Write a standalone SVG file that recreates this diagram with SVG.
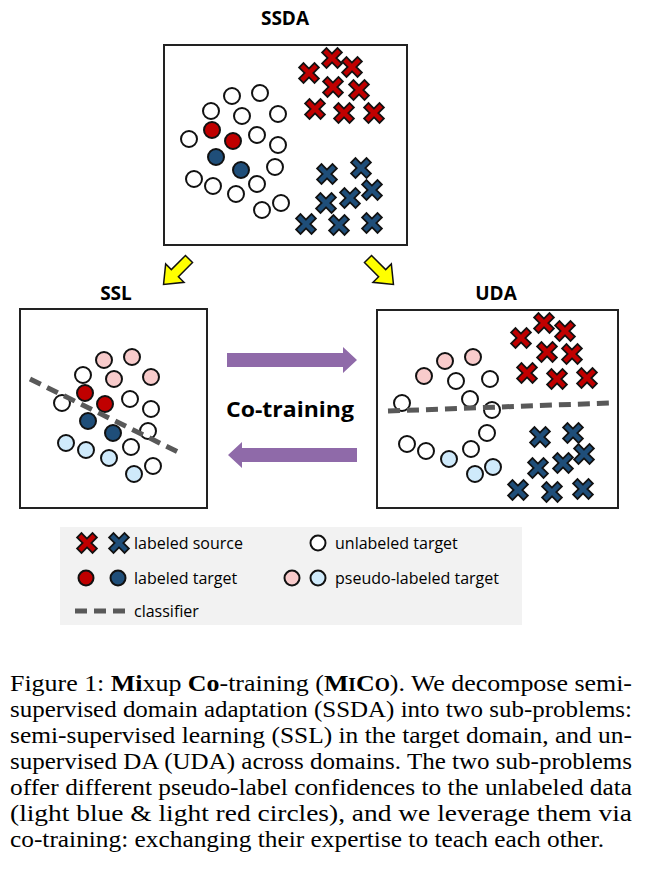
<svg xmlns="http://www.w3.org/2000/svg" xmlns:xlink="http://www.w3.org/1999/xlink" width="648" height="877" viewBox="0 0 648 877">
<style>
.box{fill:#fff;stroke:#222;stroke-width:2}
.title{font-family:"Open Sans","Liberation Sans",sans-serif;font-weight:bold;font-size:19px;fill:#000;text-anchor:middle}
.o{fill:#fff;stroke:#111;stroke-width:2}
.r{fill:#c00000;stroke:#111;stroke-width:2}
.b{fill:#1f4e79;stroke:#111;stroke-width:2}
.p{fill:#f8cbcb;stroke:#111;stroke-width:2}
.lb{fill:#cfeafb;stroke:#111;stroke-width:2}
.dash{stroke:#595959;stroke-width:5;stroke-dasharray:12 7;fill:none}
.leg{font-family:"Open Sans","Liberation Sans",sans-serif;font-size:16px;fill:#000}
.cap{font-family:"Liberation Serif",serif;font-size:24px;fill:#000}
</style>
<defs>
<g id="xo"><path d="M-5.5,-5.5L5.5,5.5M5.5,-5.5L-5.5,5.5" stroke="#111" stroke-width="8" stroke-linecap="square"/></g>
<g id="xr"><use xlink:href="#xo"/><path d="M-5.5,-5.5L5.5,5.5M5.5,-5.5L-5.5,5.5" stroke="#c00000" stroke-width="4.5" stroke-linecap="square"/></g>
<g id="xb"><use xlink:href="#xo"/><path d="M-5.5,-5.5L5.5,5.5M5.5,-5.5L-5.5,5.5" stroke="#1f4e79" stroke-width="4.5" stroke-linecap="square"/></g>
<polygon id="yarr" points="0,-5 20,-5 20,-13 36,0 20,13 20,5 0,5" fill="#ffff00" stroke="#111" stroke-width="1.5"/>
</defs>

<g id="ssda">
<text class="title" x="285" y="25">SSDA</text>
<rect class="box" x="164" y="45" width="243" height="200"/>
<circle class="o" cx="232" cy="96" r="8"/><circle class="o" cx="260" cy="93" r="8"/><circle class="o" cx="211" cy="111" r="8"/>
<circle class="o" cx="242" cy="116" r="8"/><circle class="o" cx="278" cy="114" r="8"/><circle class="o" cx="189" cy="139" r="8"/>
<circle class="o" cx="257" cy="135" r="8"/><circle class="o" cx="278" cy="145" r="8"/><circle class="o" cx="194" cy="179" r="8"/>
<circle class="o" cx="213" cy="186" r="8"/><circle class="o" cx="275" cy="167" r="8"/><circle class="o" cx="236" cy="194" r="8"/>
<circle class="o" cx="257" cy="184" r="8"/><circle class="o" cx="262" cy="210" r="8"/><circle class="o" cx="281" cy="203" r="8"/>
<circle class="r" cx="212" cy="130" r="8"/><circle class="r" cx="233" cy="141" r="8"/>
<circle class="b" cx="216" cy="157" r="8"/><circle class="b" cx="241" cy="170" r="8"/>
<use xlink:href="#xr" x="309" y="73"/><use xlink:href="#xr" x="332" y="58"/><use xlink:href="#xr" x="352" y="67"/><use xlink:href="#xr" x="333" y="87"/>
<use xlink:href="#xr" x="359" y="90"/><use xlink:href="#xr" x="315" y="109"/><use xlink:href="#xr" x="344" y="113"/><use xlink:href="#xr" x="374" y="113"/>
<use xlink:href="#xb" x="327" y="174"/><use xlink:href="#xb" x="361" y="168"/><use xlink:href="#xb" x="372" y="190"/><use xlink:href="#xb" x="350" y="198"/>
<use xlink:href="#xb" x="326" y="203"/><use xlink:href="#xb" x="306" y="224"/><use xlink:href="#xb" x="339" y="225"/><use xlink:href="#xb" x="372" y="223"/>
</g>

<g id="ssl">
<text class="title" x="116" y="300">SSL</text>
<rect class="box" x="20" y="309" width="187" height="199"/>
<circle class="p" cx="104" cy="360" r="8"/><circle class="p" cx="132" cy="357" r="8"/><circle class="p" cx="114" cy="379" r="8"/><circle class="p" cx="151" cy="377" r="8"/>
<circle class="o" cx="83" cy="375" r="8"/><circle class="o" cx="62" cy="403" r="8"/><circle class="o" cx="130" cy="399" r="8"/><circle class="o" cx="151" cy="409" r="8"/>
<circle class="o" cx="148" cy="431" r="8"/><circle class="o" cx="131" cy="447" r="8"/><circle class="o" cx="153" cy="466" r="8"/>
<circle class="r" cx="85" cy="393" r="8"/><circle class="r" cx="105" cy="404" r="8"/>
<circle class="b" cx="88" cy="421" r="8"/><circle class="b" cx="113" cy="433" r="8"/>
<circle class="lb" cx="66" cy="443" r="8"/><circle class="lb" cx="86" cy="450" r="8"/><circle class="lb" cx="109" cy="458" r="8"/><circle class="lb" cx="134" cy="474" r="8"/>
<line class="dash" x1="30" y1="379" x2="178" y2="452"/>
</g>

<g id="uda">
<text class="title" x="496" y="300">UDA</text>
<rect class="box" x="377" y="310" width="241" height="198"/>
<circle class="p" cx="424" cy="376" r="8"/><circle class="p" cx="445" cy="361" r="8"/><circle class="p" cx="473" cy="357" r="8"/>
<circle class="o" cx="456" cy="381" r="8"/><circle class="o" cx="490" cy="379" r="8"/><circle class="o" cx="402" cy="403" r="8"/><circle class="o" cx="470" cy="399" r="8"/>
<circle class="o" cx="492" cy="410" r="8"/><circle class="o" cx="487" cy="433" r="8"/><circle class="o" cx="407" cy="444" r="8"/><circle class="o" cx="426" cy="451" r="8"/><circle class="o" cx="471" cy="449" r="8"/>
<circle class="lb" cx="449" cy="459" r="8"/><circle class="lb" cx="475" cy="474" r="8"/><circle class="lb" cx="493" cy="467" r="8"/>
<line class="dash" x1="388" y1="411" x2="610" y2="403"/>
<use xlink:href="#xr" x="521" y="338"/><use xlink:href="#xr" x="544" y="323"/><use xlink:href="#xr" x="565" y="331"/><use xlink:href="#xr" x="547" y="352"/>
<use xlink:href="#xr" x="572" y="354"/><use xlink:href="#xr" x="527" y="373"/><use xlink:href="#xr" x="557" y="379"/><use xlink:href="#xr" x="587" y="378"/>
<use xlink:href="#xb" x="540" y="437"/><use xlink:href="#xb" x="573" y="433"/><use xlink:href="#xb" x="584" y="454"/><use xlink:href="#xb" x="563" y="463"/>
<use xlink:href="#xb" x="538" y="468"/><use xlink:href="#xb" x="518" y="490"/><use xlink:href="#xb" x="552" y="492"/><use xlink:href="#xb" x="583" y="489"/>
</g>

<g id="connectors">
<use xlink:href="#yarr" transform="translate(189,259) rotate(135)"/>
<use xlink:href="#yarr" transform="translate(368,259) rotate(45)"/>
<polygon points="227,353 343,353 343,347 357,360 343,373 343,367 227,367" fill="#8f6aa9"/>
<polygon points="357,448 242,448 242,442 228,455 242,468 242,462 357,462" fill="#8f6aa9"/>
<text x="290" y="417" text-anchor="middle" font-family="Open Sans, Liberation Sans, sans-serif" font-weight="bold" font-size="21" textLength="128" lengthAdjust="spacingAndGlyphs">Co-training</text>
</g>

<g id="legend">
<rect x="60" y="527" width="462" height="98" fill="#f2f2f2"/>
<use xlink:href="#xr" x="87" y="543"/><use xlink:href="#xb" x="119" y="543"/>
<text class="leg" x="134" y="549">labeled source</text>
<circle class="o" cx="318" cy="543" r="7.5"/>
<text class="leg" x="335" y="549">unlabeled target</text>
<circle class="r" cx="86" cy="578" r="7.5"/><circle class="b" cx="118" cy="578" r="7.5"/>
<text class="leg" x="134" y="584">labeled target</text>
<circle class="p" cx="292" cy="578" r="7.5"/><circle class="lb" cx="318" cy="578" r="7.5"/>
<text class="leg" x="335" y="584">pseudo-labeled target</text>
<line class="dash" x1="75" y1="611" x2="126" y2="611" stroke-width="4" stroke-dasharray="12 6"/>
<text class="leg" x="134" y="617">classifier</text>
</g>

<g id="caption">
<text class="cap" x="10" y="691" textLength="622" lengthAdjust="spacingAndGlyphs">Figure 1: <tspan font-weight="bold">Mi</tspan>xup <tspan font-weight="bold">Co</tspan>-training (<tspan font-weight="bold">M<tspan font-size="18">I</tspan>C<tspan font-size="18">O</tspan></tspan>). We decompose semi-</text>
<text class="cap" x="10" y="717" textLength="622" lengthAdjust="spacingAndGlyphs">supervised domain adaptation (SSDA) into two sub-problems:</text>
<text class="cap" x="10" y="743" textLength="622" lengthAdjust="spacingAndGlyphs">semi-supervised learning (SSL) in the target domain, and un-</text>
<text class="cap" x="10" y="769" textLength="622" lengthAdjust="spacingAndGlyphs">supervised DA (UDA) across domains. The two sub-problems</text>
<text class="cap" x="10" y="795" textLength="622" lengthAdjust="spacingAndGlyphs">offer different pseudo-label confidences to the unlabeled data</text>
<text class="cap" x="10" y="821" textLength="622" lengthAdjust="spacingAndGlyphs">(light blue &amp; light red circles), and we leverage them via</text>
<text class="cap" x="10" y="847" textLength="594" lengthAdjust="spacingAndGlyphs">co-training: exchanging their expertise to teach each other.</text>
</g>
</svg>
